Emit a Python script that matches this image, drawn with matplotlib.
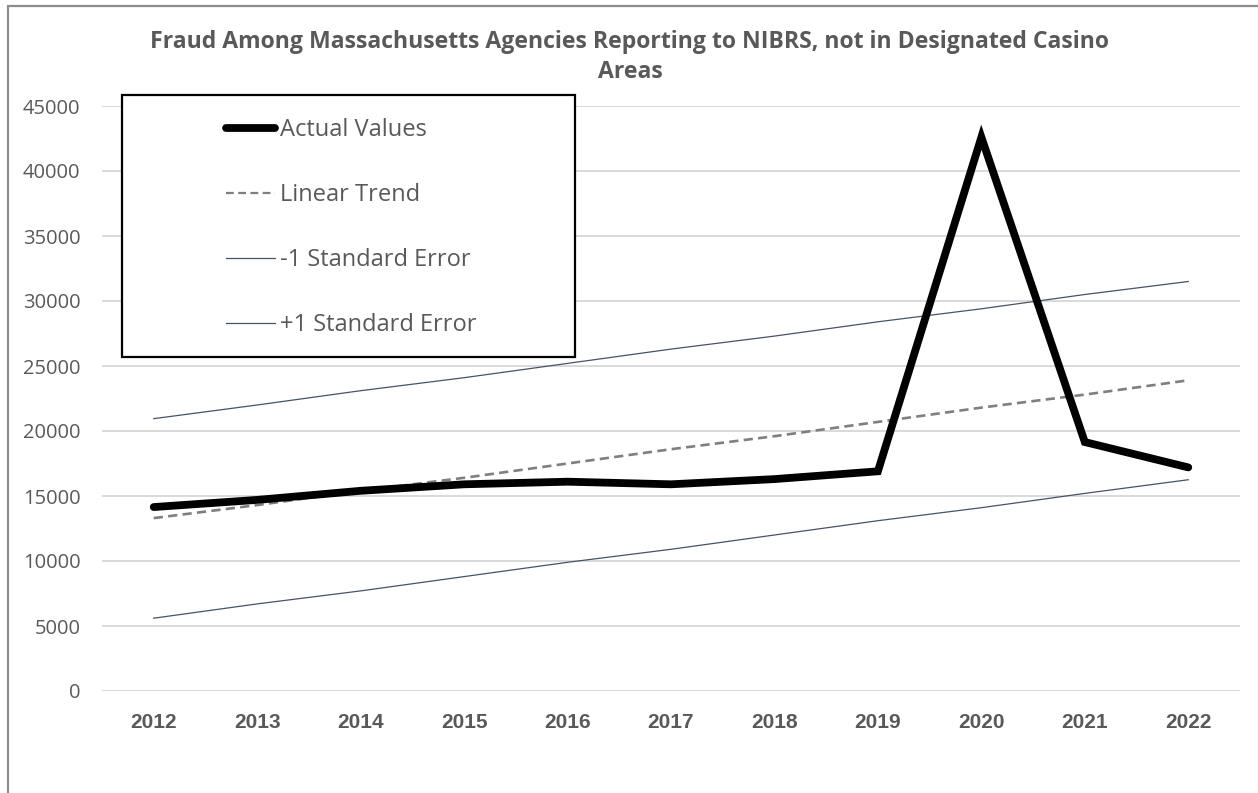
import matplotlib
matplotlib.use("Agg")
import matplotlib.pyplot as plt
from matplotlib.patches import Rectangle
from matplotlib.lines import Line2D

years = ["2012", "2013", "2014", "2015", "2016", "2017", "2018", "2019", "2020", "2021", "2022"]
actual = [14150, 14700, 15400, 15900, 16100, 15900, 16300, 16900, 42600, 19150, 17200]
trend = [13300, 14300, 15400, 16400, 17500, 18600, 19600, 20700, 21800, 22800, 23900]
minus_se = [5600, 6700, 7700, 8800, 9900, 10900, 12000, 13100, 14100, 15200, 16250]
plus_se = [20950, 22000, 23100, 24100, 25200, 26300, 27300, 28400, 29400, 30500, 31500]
yticks = [0, 5000, 10000, 15000, 20000, 25000, 30000, 35000, 40000, 45000]
title = "Fraud Among Massachusetts Agencies Reporting to NIBRS, not in Designated Casino\nAreas"
labels = ["Actual Values", "Linear Trend", "-1 Standard Error", "+1 Standard Error"]

W, H = 1258, 793
fig = plt.figure(figsize=(W / 100, H / 100), dpi=100)
fig.patch.set_facecolor("white")

# outer chart border (cropped screenshot)
fig.patches.append(Rectangle((8 / W, -0.05), 1.2, 1 - 6 / H + 0.05, transform=fig.transFigure,
                             fill=False, edgecolor="#8c8c8c", linewidth=1.6))

ax = fig.add_axes([102 / W, 1 - 691 / H, (1240 - 102) / W, (691 - 106) / H])
x = list(range(len(years)))
gray_txt = "#595959"
navy = "#44546A"

ax.plot(x, plus_se, color=navy, linewidth=0.9, zorder=3)
ax.plot(x, minus_se, color=navy, linewidth=0.9, zorder=3)
ax.plot(x, trend, color="#7f7f7f", linewidth=1.9, linestyle=(0, (3.5, 2)), zorder=3)
ax.plot(x, actual, color="black", linewidth=5.6, solid_joinstyle="miter",
        solid_capstyle="round", zorder=4)

ax.set_xlim(-0.5, len(years) - 0.5)
ax.set_ylim(0, 45000)
ax.set_yticks(yticks)
ax.set_yticklabels([str(v) for v in yticks], fontsize=14.5, color=gray_txt, family="Open Sans")
ax.set_xticks(x)
ax.set_xticklabels(years, fontsize=15, color=gray_txt, family="Liberation Sans", fontweight="bold")
ax.tick_params(axis="both", length=0)
ax.tick_params(axis="y", pad=15.5)
ax.tick_params(axis="x", pad=16)
ax.grid(axis="y", color="#d9d9d9", linewidth=1.4)
ax.set_axisbelow(True)
for s in ax.spines.values():
    s.set_visible(False)

fig.text(630 / W, 1 - 57 / H, title, ha="center", va="center", fontsize=16.6, fontweight="bold",
         color=gray_txt, family="Open Sans", linespacing=1.3)

# legend box
fig.patches.append(Rectangle((122 / W, 1 - 357 / H), (575 - 122) / W, (357 - 95) / H,
                             transform=fig.transFigure, facecolor="white", edgecolor="black",
                             linewidth=1.6, zorder=5))
handles = [
    Line2D([], [], color="black", linewidth=5.6, solid_capstyle="round"),
    Line2D([], [], color="#7f7f7f", linewidth=1.6, linestyle=(0, (3.5, 2))),
    Line2D([], [], color=navy, linewidth=0.9),
    Line2D([], [], color=navy, linewidth=0.9),
]
leg = fig.legend(handles, labels, loc="upper left", bbox_to_anchor=(226 / W, 1 - 118 / H),
                 frameon=False, prop={"family": "Open Sans", "size": 17}, handlelength=2.08,
                 handletextpad=0.2, labelspacing=1.735, borderpad=0, borderaxespad=0)
leg.set_zorder(6)
for t in leg.get_texts():
    t.set_color(gray_txt)

fig.savefig("out.png", dpi=100, facecolor="white")
